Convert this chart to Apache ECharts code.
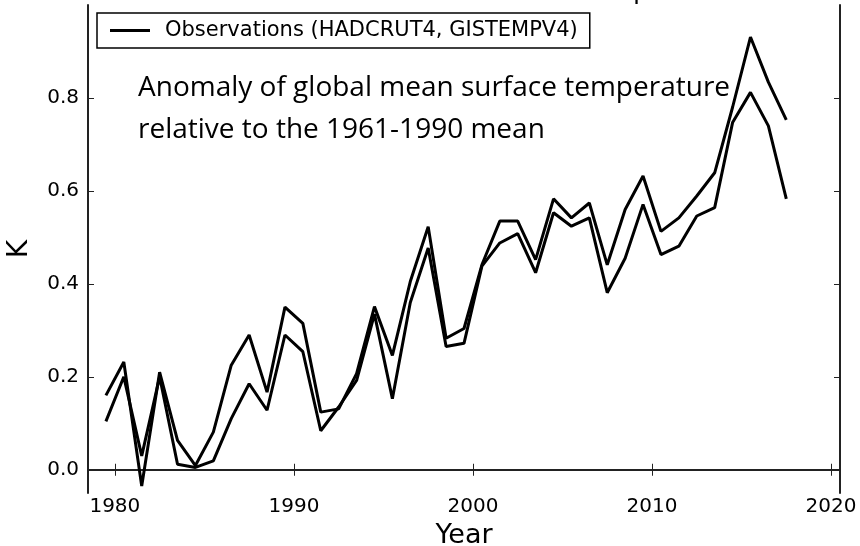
<!DOCTYPE html>
<html>
<head>
<meta charset="utf-8">
<script src="https://cdn.jsdelivr.net/npm/echarts@6/dist/echarts.min.js"></script>
<style>
html,body{margin:0;padding:0;background:#fff;}
#chart{width:860px;height:546px;}
</style>
</head>
<body>
<div id="chart"></div>
<script>
const seriesName = 'Observations (HADCRUT4, GISTEMPV4)';
const years = [1979.5,1980.5,1981.5,1982.5,1983.5,1984.5,1985.5,1986.5,1987.5,1988.5,
  1989.5,1990.5,1991.5,1992.5,1993.5,1994.5,1995.5,1996.5,1997.5,1998.5,
  1999.5,2000.5,2001.5,2002.5,2003.5,2004.5,2005.5,2006.5,2007.5,2008.5,
  2009.5,2010.5,2011.5,2012.5,2013.5,2014.5,2015.5,2016.5,2017.5];
const obsA = [0.160,0.232,-0.035,0.210,0.063,0.009,0.081,0.225,0.290,0.167,
  0.350,0.315,0.124,0.131,0.207,0.351,0.246,0.405,0.523,0.283,
  0.304,0.441,0.535,0.535,0.452,0.583,0.542,0.574,0.441,0.560,
  0.632,0.513,0.542,0.589,0.639,0.780,0.931,0.834,0.753];
const obsB = [0.104,0.200,0.030,0.200,0.012,0.005,0.019,0.110,0.185,0.128,
  0.290,0.254,0.084,0.135,0.192,0.335,0.153,0.360,0.477,0.265,
  0.272,0.438,0.488,0.508,0.424,0.553,0.524,0.542,0.381,0.455,
  0.571,0.463,0.481,0.546,0.564,0.747,0.812,0.740,0.583];
const xTicks = [1980,1990,2000,2010,2020];
const yTicks = [0.0,0.2,0.4,0.6,0.8];
const annotation1 = 'Anomaly of global mean surface temperature';
const annotation2 = 'relative to the 1961-1990 mean';
const clippedTitle = 'p';

const chart = echarts.init(document.getElementById('chart'));
const axisLineStyle = {show:true, lineStyle:{color:'#222', width:2}};
const tickStyle = {show:true, inside:true, length:6, lineStyle:{color:'#222', width:1}};
const font = 'DejaVu Sans';

function pairs(vals){ return years.map((y,i)=>[y, vals[i]]); }

chart.setOption({
  animation:false,
  backgroundColor:'#fff',
  grid:{left:88, right:20, top:5, bottom:53, containLabel:false, outerBoundsMode:'none'},
  legend:{
    data:[seriesName], left:97, top:13, orient:'horizontal',
    borderColor:'#000', borderWidth:1.5, padding:[7,12,7,13],
    itemWidth:40, itemHeight:3, icon:'rect', itemGap:10,
    textStyle:{fontFamily:font, fontSize:21, color:'#000', padding:[0,0,0,10]}
  },
  xAxis:[{
    type:'value', min:1978.5, max:2020.5, position:'bottom',
    axisLine:axisLineStyle, splitLine:{show:false},
    axisTick:Object.assign({customValues:xTicks}, tickStyle),
    axisLabel:{customValues:xTicks, formatter:v=>String(v), fontFamily:font, fontSize:20, color:'#000', margin:4},
    name:'Year', nameLocation:'middle', nameGap:29,
    nameTextStyle:{fontFamily:font, fontSize:27, color:'#000'}
  },{
    type:'value', min:1978.5, max:2020.5, position:'top',
    axisLine:axisLineStyle, splitLine:{show:false},
    axisTick:Object.assign({customValues:xTicks}, tickStyle),
    axisLabel:{show:false}
  }],
  yAxis:[{
    type:'value', min:-0.05, max:1.0, position:'left',
    axisLine:axisLineStyle, splitLine:{show:false},
    axisTick:Object.assign({customValues:yTicks}, tickStyle),
    axisLabel:{customValues:yTicks, formatter:v=>v.toFixed(1), fontFamily:font, fontSize:20, color:'#000', margin:9},
    name:'K', nameLocation:'middle', nameGap:54, nameRotate:90,
    nameTextStyle:{fontFamily:font, fontSize:28, color:'#000'}
  },{
    type:'value', min:-0.05, max:1.0, position:'right',
    axisLine:axisLineStyle, splitLine:{show:false},
    axisTick:Object.assign({customValues:yTicks}, tickStyle),
    axisLabel:{show:false}
  }],
  graphic:[
    {type:'text', left:138, top:74, style:{text:annotation1, fontFamily:'Open Sans', fontSize:28, fill:'#000'}},
    {type:'text', left:138, top:116, style:{text:annotation2, fontFamily:'Open Sans', fontSize:28, fill:'#000'}},
    {type:'text', left:633, top:-25, style:{text:clippedTitle, fontFamily:'Open Sans', fontSize:28, fill:'#000'}}
  ],
  series:[
    {name:seriesName, type:'line', data:pairs(obsA), showSymbol:false, symbol:'none',
     lineStyle:{color:'#000', width:3}, itemStyle:{color:'#000'}},
    {name:seriesName, type:'line', data:pairs(obsB), showSymbol:false, symbol:'none',
     lineStyle:{color:'#000', width:3}, itemStyle:{color:'#000'}}
  ]
});
</script>
</body>
</html>
